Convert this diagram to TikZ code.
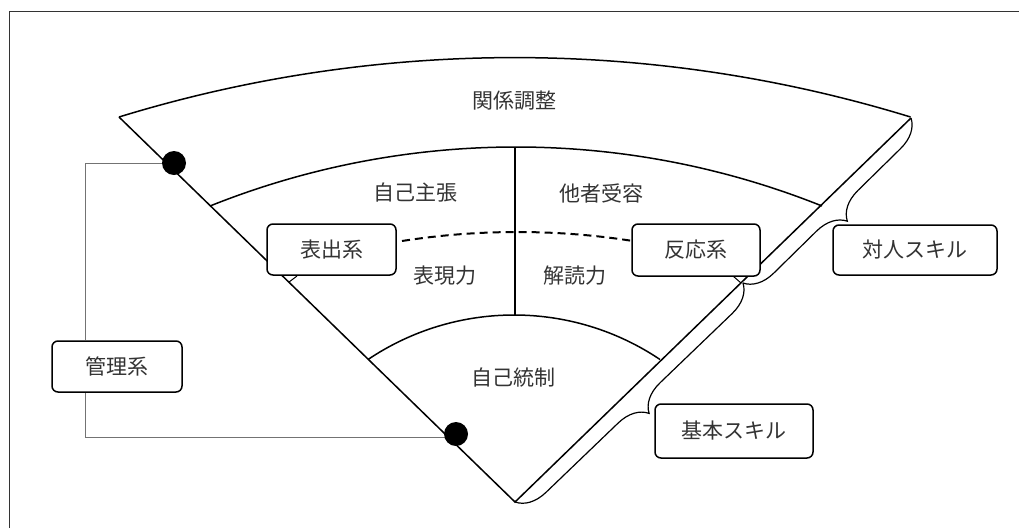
\documentclass[tikz,border=0pt]{standalone}
\usepackage{fontspec}
\setmainfont{Noto Sans CJK JP}
\usetikzlibrary{decorations.pathreplacing}
\begin{document}
\begin{tikzpicture}[x=1pt,y=1pt,
  fan/.style={line width=1.5pt, black},
  conn/.style={line width=1pt, black!55},
  box/.style={draw, line width=1.5pt, rounded corners=6pt, fill=white, inner sep=0pt, text=black!80, font=\fontsize{21}{25}\selectfont},
  lbl/.style={text=black!80, font=\fontsize{21}{25}\selectfont, inner sep=0pt},
  dotc/.style={circle, fill=black, minimum size=24pt, inner sep=0pt},
  brc/.style={decorate, decoration={brace, amplitude=29pt}, line width=1.2pt},
]
\useasboundingbox (0,0) rectangle (1019,-528);
\draw[black!80, line width=1pt] (9,-528) -- (9,-11) -- (1019,-11);

\coordinate (L) at (119,-117);
\coordinate (R) at (911,-118);
\coordinate (A) at (515,-502);
\coordinate (M) at (743,-283);
\coordinate (d1) at (174,-163);
\coordinate (d2) at (456,-434);
\coordinate (kx) at (85,0);

% fan
\draw[fan] (L) -- (A) -- (R);
\draw[fan] (L) arc[start angle=107.08, end angle=72.92, radius=1347.5pt];
\draw[fan] (210,-206) arc[start angle=111.83, end angle=68.17, radius=823pt];
\draw[fan] (368,-359.5) arc[start angle=123.9, end angle=56.1, radius=261.8pt];
\draw[fan] (515,-148) -- (515,-315);
\draw[fan, line width=1pt] (289,-282) -- (297,-276);
\draw[fan, line width=1pt] (733,-276) -- (741,-283);
\draw[fan, line width=2pt, dash pattern=on 8pt off 5pt] (402,-241) arc[start angle=98.91, end angle=81.09, radius=745.6pt];

% braces
\draw[brc] (R) -- (M);
\draw[brc] (M) -- (A);

% labels
\node[lbl] (kankei) at (514,-101) {関係調整};
\node[lbl] (jiko) at (415,-193) {自己主張};
\node[lbl] (tasha) at (601,-193) {他者受容};
\node[lbl] (hyogen) at (445,-276) {表現力};
\node[lbl] (kaidoku) at (575,-276) {解読力};
\node[lbl] (tosei) at (513,-378) {自己統制};

% boxes
\node[box, minimum width=129pt, minimum height=51pt] (hyo) at (331.5,-249.5) {表出系};
\node[box, minimum width=128pt, minimum height=52pt] (han) at (696,-250) {反応系};
\node[box, minimum width=164pt, minimum height=50pt] (taijin) at (915,-250) {対人スキル};
\node[box, minimum width=158pt, minimum height=54pt] (kihon) at (734,-431) {基本スキル};
\node[box, minimum width=130pt, minimum height=51pt] (kanri) at (117,-366.5) {管理系};

% management connectors
\draw[conn] (d1) -- (d1 -| kx) -- (kanri.north -| kx);
\draw[conn] (kanri.south -| kx) -- (85,-437) -- (d2 |- 0,-437);
\node[dotc] (dot1) at (d1) {};
\node[dotc] (dot2) at (d2) {};
\end{tikzpicture}
\end{document}
